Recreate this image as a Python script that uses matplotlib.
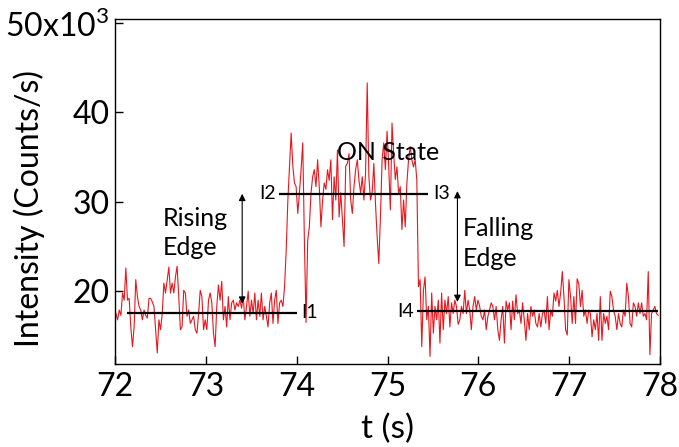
import numpy as np
import matplotlib
matplotlib.use('Agg')
import matplotlib.pyplot as plt

plt.rcParams['font.family'] = ['Lato', 'DejaVu Sans']
plt.rcParams['mathtext.fontset'] = 'custom'
plt.rcParams['mathtext.rm'] = 'Lato'

# Intensity trace in 10^3 counts/s, one second at a time
int_72_73 = [17.5, 16.8, 17.9, 17.3, 19.8, 19.0, 22.6, 19.0, 19.2, 16.0, 13.8, 16.0, 21.3, 19.4,
             18.3, 17.9, 16.8, 17.9, 17.3, 17.0, 19.2, 19.2, 18.8, 18.3, 15.7, 13.1, 16.8, 15.7,
             17.5, 20.9, 19.8, 21.3, 22.7, 19.8, 20.9, 19.8, 21.6, 22.8, 19.4, 15.7, 16.0, 20.1,
             19.8, 17.2, 17.9, 16.4, 16.8, 17.2, 15.7, 15.3, 17.5, 20.1, 19.4, 15.7, 16.8]
int_73_74 = [15.7, 19.0, 19.8, 18.7, 15.3, 13.8, 18.3, 20.7, 19.0, 21.1, 16.8, 18.3, 16.0, 19.4,
             16.8, 18.7, 19.0, 17.9, 18.7, 18.3, 19.0, 18.1, 19.4, 16.8, 18.3, 20.0, 17.2, 19.0,
             17.5, 19.8, 16.8, 19.0, 17.2, 19.8, 16.8, 18.3, 17.2, 16.0, 18.7, 19.8, 16.4, 19.0,
             20.1, 16.4, 18.7, 19.0, 18.3, 20.5, 24.6, 30.2, 34.0, 37.7, 34.0]
int_74_75 = [32.1, 31.7, 28.7, 31.0, 33.6, 36.6, 25.7, 16.5, 25.7, 27.2, 31.0, 32.8, 33.6, 31.7,
             34.7, 31.7, 27.2, 30.2, 32.1, 31.4, 33.6, 32.4, 34.7, 28.0, 32.8, 30.2, 35.8, 28.3,
             31.0, 28.0, 25.0, 34.0, 34.3, 35.4, 30.2, 28.7, 31.7, 33.6, 34.7, 32.4, 31.0, 32.8,
             30.2, 33.2, 43.3, 32.8, 30.2, 31.0, 34.3, 29.8, 26.1, 23.1, 28.3, 34.7, 36.6, 33.6,
             37.9, 34.0, 29.1]
int_75_76 = [38.8, 35.4, 32.5, 33.9, 30.9, 31.7, 26.9, 30.2, 27.2, 32.1, 34.7, 36.2, 34.7, 33.9,
             34.7, 32.5, 20.5, 21.3, 13.8, 20.1, 21.6, 16.8, 18.3, 12.7, 19.8, 15.3, 18.3, 16.8,
             19.0, 14.2, 19.8, 15.7, 19.0, 17.5, 19.4, 16.0, 18.7, 17.5, 19.0, 18.3, 16.3, 16.8,
             18.3, 17.5, 20.1, 17.5, 19.0, 17.9, 15.7, 18.3, 19.4, 17.9, 19.0, 18.3, 17.2]
int_76_77 = [16.8, 17.9, 15.7, 17.2, 17.9, 18.7, 18.3, 16.8, 18.3, 15.7, 14.5, 16.8, 18.3, 14.2,
             18.9, 17.9, 18.7, 15.7, 18.9, 16.8, 19.6, 17.5, 17.9, 16.4, 18.7, 16.8, 14.5, 17.5,
             15.7, 18.3, 17.2, 17.9, 16.4, 16.0, 17.5, 16.0, 17.5, 17.9, 16.4, 19.4, 15.7, 17.9,
             17.2, 19.8, 18.9, 20.1, 18.3, 19.8, 22.2, 19.4, 15.7, 15.1, 21.3, 19.4, 16.4]
int_77_78 = [19.4, 16.4, 21.4, 20.8, 18.3, 20.1, 17.2, 17.9, 16.4, 17.9, 17.5, 14.9, 16.8, 15.7,
             17.5, 14.5, 19.4, 14.5, 17.5, 16.4, 17.2, 15.7, 20.0, 19.4, 17.9, 17.2, 15.7, 17.5,
             16.4, 16.0, 17.9, 17.2, 20.9, 19.4, 16.4, 16.0, 18.7, 18.3, 17.2, 18.7, 17.5, 18.7,
             17.2, 17.5, 16.8, 22.2, 12.9, 17.5, 17.9, 18.3, 17.5, 17.3]
T_START, T_END = 72.01, 77.98

# mean levels and the time spans they are drawn over
level_I1, span_I1 = 17.6, (72.13, 74.0)
level_I2, span_I2 = 30.9, (73.8, 75.45)
level_I4, span_I4 = 17.75, (75.33, 77.98)

# double arrows (time, low, high)
rise_arrow = (73.40, 18.6, 30.9)
fall_arrow = (75.77, 18.8, 31.2)

intensity = np.concatenate([int_72_73, int_73_74, int_74_75, int_75_76, int_76_77, int_77_78])
t = np.linspace(T_START, T_END, len(intensity))

fig = plt.figure(figsize=(6.79, 4.47), dpi=100)
ax = fig.add_axes([0.1694, 0.1857, 0.8026, 0.7718])

ax.plot(t, intensity, color='#e8171d', lw=0.8)

ax.hlines(level_I1, *span_I1, color='black', lw=1.6)
ax.hlines(level_I2, *span_I2, color='black', lw=1.6)
ax.hlines(level_I4, *span_I4, color='black', lw=1.6)

ax.text(74.045, level_I1, 'I1', fontsize=14, ha='left', va='center')
ax.text(73.77, level_I2, 'I2', fontsize=14, ha='right', va='center')
ax.text(75.50, level_I2, 'I3', fontsize=14, ha='left', va='center')
ax.text(75.29, level_I4, 'I4', fontsize=14, ha='right', va='center')

for x, lo, hi in (rise_arrow, fall_arrow):
    ax.annotate('', xy=(x, lo), xytext=(x, hi),
                arrowprops=dict(arrowstyle='<|-|>', color='black', lw=0.8,
                                mutation_scale=10, shrinkA=0, shrinkB=0))

ax.text(72.53, 27.3, 'Rising', fontsize=18, ha='left', va='baseline')
ax.text(72.53, 24.05, 'Edge', fontsize=18, ha='left', va='baseline')
ax.text(75.83, 26.2, 'Falling', fontsize=18, ha='left', va='baseline')
ax.text(75.83, 22.8, 'Edge', fontsize=18, ha='left', va='baseline')
ax.text(74.44, 34.7, 'ON State', fontsize=18, ha='left', va='baseline')

ax.set_xlim(72, 78)
ax.set_ylim(11.86, 50.45)
ax.set_xticks([72, 73, 74, 75, 76, 77, 78])
ax.set_yticks([20, 30, 40, 50])
ax.set_yticklabels(['20', '30', '40', '50x10$^{3}$'])
ax.tick_params(direction='in', length=6, width=1, labelsize=23, top=False, right=False)
ax.tick_params(axis='x', pad=6)
ax.tick_params(axis='y', pad=4)
for s in ax.spines.values():
    s.set_linewidth(1.0)

ax.set_xlabel('t (s)', fontsize=24)
ax.set_ylabel('Intensity (Counts/s)', fontsize=23)
ax.xaxis.set_label_coords(0.5, -0.145)
ax.yaxis.set_label_coords(-0.128, 0.452)

fig.savefig('out.png', dpi=100)
